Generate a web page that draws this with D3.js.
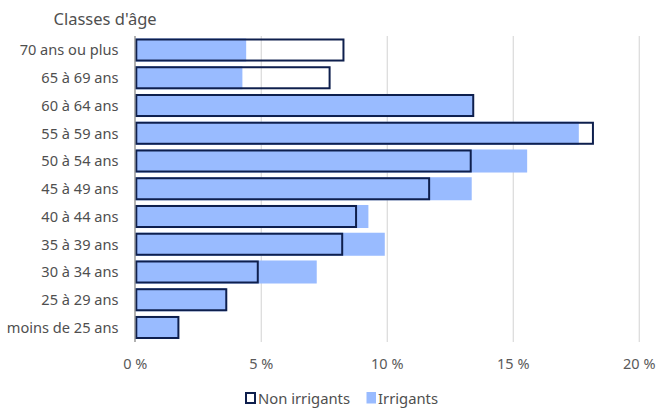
<!DOCTYPE html>
<html><head><meta charset="utf-8">
<script src="https://cdn.jsdelivr.net/npm/d3@7"></script>
<style>body{margin:0;background:#fff}svg{display:block}text{font-family:"Noto Sans",sans-serif}</style>
</head><body><svg id="c" width="656" height="410"></svg>
<script>
const categories = ["70 ans ou plus","65 à 69 ans","60 à 64 ans","55 à 59 ans","50 à 54 ans","45 à 49 ans","40 à 44 ans","35 à 39 ans","30 à 34 ans","25 à 29 ans","moins de 25 ans"];
const nonIrrigants = [8.3,7.75,13.45,18.2,13.35,11.7,8.8,8.25,4.9,3.65,1.75];
const irrigants = [4.4,4.25,13.4,17.6,15.55,13.35,9.25,9.9,7.2,3.6,1.7];
const xTicks = [0,5,10,15,20];
const seriesNames = ["Non irrigants","Irrigants"];

const svg = d3.select("#c");
const x = d3.scaleLinear().domain([0,20]).range([135.3,639.3]);
const y = d3.scaleBand().domain(categories).range([36,341.5]).paddingInner(0.17).paddingOuter(0.09);
const navy = "#0e1f4d", blue = "#99bbff", txt = "#4f4f4f";

// grid
svg.append("g").selectAll("line").data(xTicks.slice(1)).join("line")
  .attr("x1",d=>x(d)).attr("x2",d=>x(d)).attr("y1",36).attr("y2",342)
  .attr("stroke","#dddddd").attr("stroke-width",1.3);

// tick labels
svg.append("g").selectAll("text").data(xTicks).join("text")
  .attr("x",d=>x(d)).attr("y",369).attr("text-anchor","middle")
  .attr("font-size",14.5).attr("fill","#595959").text(d=>d+" %");

// irrigants bars
svg.append("g").selectAll("rect").data(categories).join("rect")
  .attr("x",x(0)).attr("y",d=>y(d)).attr("height",y.bandwidth())
  .attr("width",(d,i)=>x(irrigants[i])-x(0)).attr("fill",blue);

// non irrigants outline
svg.append("g").selectAll("rect").data(categories).join("rect")
  .attr("x",x(0)+1).attr("y",d=>y(d)+1).attr("height",y.bandwidth()-2)
  .attr("width",(d,i)=>x(nonIrrigants[i])-x(0)-2).attr("fill","none")
  .attr("stroke",navy).attr("stroke-width",2);

// left axis line
svg.append("line").attr("x1",135).attr("x2",135).attr("y1",36).attr("y2",342)
  .attr("stroke","#888").attr("stroke-width",1.3);

// category labels
svg.append("g").selectAll("text").data(categories).join("text")
  .attr("x",118.5).attr("y",d=>y(d)+y.bandwidth()/2).attr("dy","0.36em")
  .attr("text-anchor","end").attr("font-size",14.6).attr("fill",txt).text(d=>d);

// title
svg.append("text").attr("x",53.5).attr("y",24.5).attr("font-size",16.5).attr("fill",txt).text("Classes d'âge");

// legend
const lg = svg.append("g");
lg.append("rect").attr("x",246).attr("y",393).attr("width",9).attr("height",10)
  .attr("fill","#fff").attr("stroke",navy).attr("stroke-width",2);
lg.append("text").attr("x",258).attr("y",404).attr("font-size",14.8).attr("fill",txt).text(seriesNames[0]);
lg.append("rect").attr("x",366.5).attr("y",392).attr("width",9.5).attr("height",11.5).attr("fill",blue);
lg.append("text").attr("x",378).attr("y",404).attr("font-size",14.8).attr("fill",txt).text(seriesNames[1]);
</script></body></html>
